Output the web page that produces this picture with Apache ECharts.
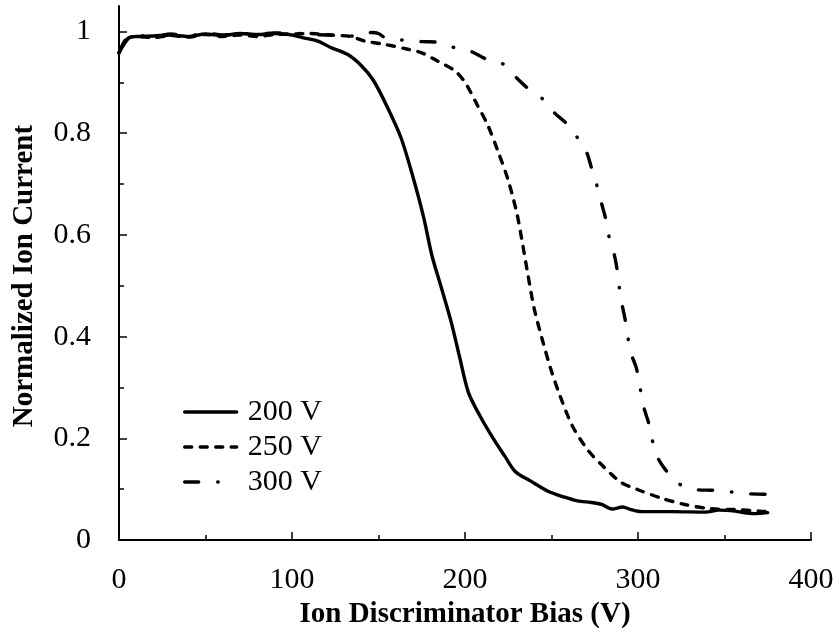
<!DOCTYPE html>
<html>
<head>
<meta charset="utf-8">
<script src="https://cdn.jsdelivr.net/npm/echarts@6/dist/echarts.min.js"></script>
<style>
  html, body { margin: 0; padding: 0; background: #fff; }
  #chart { width: 839px; height: 634px; }
</style>
</head>
<body>
<div id="chart"></div>
<script>
// bias (V) and normalized current
var bias200 = [0, 3, 6, 10, 20, 30, 40, 50, 60, 70, 80, 90, 100, 106, 115, 122, 132, 140, 147, 155,
    163, 170, 176, 181, 186, 192, 197, 202, 209, 217, 223, 229, 238, 248, 257, 265, 273, 279, 285,
    291, 296, 302, 320, 339, 347, 356, 367, 375];
var cur200 = [0.958, 0.975, 0.988, 0.99, 0.991, 0.993, 0.99, 0.995, 0.992, 0.996, 0.994, 0.996, 0.993,
    0.988, 0.981, 0.969, 0.955, 0.933, 0.904, 0.852, 0.791, 0.713, 0.636, 0.558, 0.5, 0.429, 0.358,
    0.29, 0.242, 0.196, 0.165, 0.135, 0.116, 0.096, 0.085, 0.077, 0.074, 0.07, 0.061, 0.065, 0.06,
    0.056, 0.056, 0.055, 0.059, 0.057, 0.052, 0.054];

var bias250 = [0, 3, 6, 10, 20, 30, 40, 50, 60, 70, 80, 90, 100, 110, 122, 134, 142, 153, 167, 175,
    184, 194, 200, 207, 213, 219, 225, 230, 233.5, 236.5, 240, 245, 250, 255, 262, 271, 279, 290,
    300, 314, 327, 341, 356, 370, 375];
var cur250 = [0.958, 0.978, 0.988, 0.99, 0.988, 0.992, 0.989, 0.994, 0.99, 0.993, 0.99, 0.994, 0.995,
    0.996, 0.993, 0.99, 0.981, 0.975, 0.965, 0.958, 0.942, 0.923, 0.9, 0.856, 0.817, 0.765, 0.707,
    0.642, 0.578, 0.519, 0.455, 0.39, 0.332, 0.283, 0.225, 0.177, 0.148, 0.114, 0.099, 0.082, 0.07,
    0.062, 0.06, 0.057, 0.056];

var bias300 = [0, 3, 6, 10, 20, 30, 40, 50, 60, 70, 80, 90, 100, 110, 120, 130, 140, 146, 150, 155,
    165, 175, 184, 194, 204, 212, 222, 230, 236, 245, 252, 259, 265, 270, 273, 276, 279, 281, 283,
    286, 287.6, 289, 290.5, 292.5, 294, 296.3, 299, 301, 303, 306, 308, 311, 315.5, 323, 334, 343,
    353, 364, 375];
var cur300 = [0.958, 0.98, 0.99, 0.992, 0.99, 0.995, 0.991, 0.997, 0.993, 0.996, 0.995, 0.997, 0.997,
    0.994, 0.993, 0.992, 0.99, 0.998, 0.996, 0.985, 0.983, 0.98, 0.979, 0.968, 0.96, 0.946, 0.936,
    0.908, 0.889, 0.867, 0.839, 0.818, 0.791, 0.765, 0.733, 0.7, 0.661, 0.636, 0.6, 0.565, 0.539,
    0.501, 0.468, 0.435, 0.401, 0.364, 0.339, 0.305, 0.265, 0.232, 0.2, 0.165, 0.14, 0.112, 0.099,
    0.098, 0.095, 0.091, 0.09];

var seriesNames = ['200 V', '250 V', '300 V'];
var yMajorTicks = [0, 0.2, 0.4, 0.6, 0.8, 1];
var yMinorTicks = [0.1, 0.3, 0.5, 0.7, 0.9];

var pairs = function(xs, ys) {
    var out = [];
    for (var i = 0; i < xs.length; i++) {
        out.push([xs[i], ys[i]]);
    }
    return out;
};

var serif = '"Liberation Serif", "Times New Roman", serif';
var chart = echarts.init(document.getElementById('chart'));

var lineSeries = function(name, data, type) {
    return {
        name: name,
        type: 'line',
        data: data,
        yAxisIndex: 0,
        symbol: 'none',
        smooth: 0.3,
        silent: true,
        itemStyle: { color: '#000' },
        lineStyle: { color: '#000', width: 3.4, type: type, cap: 'round', join: 'round' }
    };
};

var option = {
    animation: false,
    backgroundColor: '#fff',
    grid: { left: 119, right: 28, top: 6, bottom: 86 },
    legend: {
        data: seriesNames,
        orient: 'vertical',
        left: 178,
        top: 392,
        itemWidth: 52,
        itemHeight: 18,
        itemGap: 5,
        itemStyle: { color: 'rgba(0,0,0,0)', borderWidth: 0 },
        lineStyle: { width: 3.4 },
        textStyle: { fontFamily: serif, fontSize: 30, color: '#000', padding: [0, 0, 0, 6] }
    },
    xAxis: {
        type: 'value',
        min: 0,
        max: 400,
        interval: 100,
        name: 'Ion Discriminator Bias (V)',
        nameLocation: 'middle',
        nameGap: 55,
        nameTextStyle: { fontFamily: serif, fontSize: 29, fontWeight: 'bold', color: '#000' },
        axisLine: { lineStyle: { color: '#000', width: 2 } },
        axisTick: { inside: true, length: 8, lineStyle: { color: '#000', width: 1.5 } },
        minorTick: { show: true, splitNumber: 2, length: 5, lineStyle: { color: '#000', width: 1.5 } },
        axisLabel: { fontFamily: serif, fontSize: 30, color: '#000', margin: 25 },
        splitLine: { show: false }
    },
    yAxis: [{
        type: 'value',
        min: 0,
        max: 1.05,
        position: 'left',
        name: 'Normalized Ion Current',
        nameLocation: 'middle',
        nameGap: 80,
        nameTextStyle: { fontFamily: serif, fontSize: 29, fontWeight: 'bold', color: '#000',
            padding: [0, 6, 0, 0] },
        axisLine: { show: true, lineStyle: { color: '#000', width: 2 } },
        axisTick: { show: true, inside: true, length: 8, customValues: yMajorTicks,
            lineStyle: { color: '#000', width: 1.5 } },
        axisLabel: { fontFamily: serif, fontSize: 30, color: '#000', margin: 28,
            customValues: yMajorTicks },
        splitLine: { show: false }
    }, {
        type: 'value',
        min: 0,
        max: 1.05,
        position: 'left',
        axisLine: { show: false },
        axisTick: { show: true, inside: true, length: 5, customValues: yMinorTicks,
            lineStyle: { color: '#000', width: 1.5 } },
        axisLabel: { show: false },
        splitLine: { show: false }
    }],
    series: [
        lineSeries(seriesNames[0], pairs(bias200, cur200), 'solid'),
        lineSeries(seriesNames[1], pairs(bias250, cur250), [7, 8.5]),
        lineSeries(seriesNames[2], pairs(bias300, cur300), [14, 19, 0.5, 19])
    ]
};

chart.setOption(option);
window.addEventListener('resize', function() {
    chart.resize();
});
</script>
</body>
</html>
